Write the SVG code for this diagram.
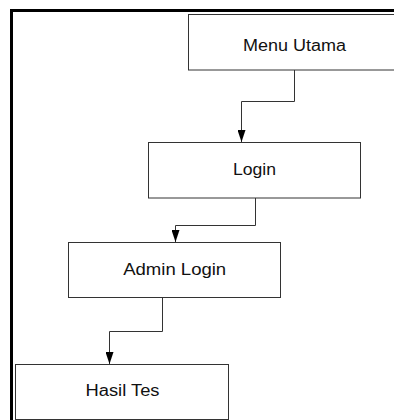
<svg xmlns="http://www.w3.org/2000/svg" width="394" height="420" viewBox="0 0 394 420">
<defs>
<style>
.box{fill:#fff;stroke:#333;stroke-width:1}
.lbl{font-family:"Liberation Sans",Arial,sans-serif;font-size:16px;fill:#111;text-anchor:middle}
.conn{fill:none;stroke:#333;stroke-width:1}
</style>
<marker id="arr" markerUnits="userSpaceOnUse" markerWidth="12" markerHeight="8" refX="12" refY="4" orient="auto" viewBox="0 0 12 8">
<path d="M0,0 L12,4 L0,8 Z" fill="#000"/>
</marker>
</defs>
<rect x="0" y="0" width="394" height="420" fill="#fff"/>
<rect x="11.5" y="10.5" width="400" height="420" fill="none" stroke="#000" stroke-width="3"/>
<g id="node-menu-utama">
<rect class="box" x="188.5" y="14.5" width="212" height="55.5"/>
<text class="lbl" x="294.5" y="50.5" textLength="103" lengthAdjust="spacingAndGlyphs">Menu Utama</text>
</g>
<g id="node-login">
<rect class="box" x="148.5" y="142.5" width="212" height="55.5"/>
<text class="lbl" x="254.5" y="174.5" textLength="43" lengthAdjust="spacingAndGlyphs">Login</text>
</g>
<g id="node-admin-login">
<rect class="box" x="68.5" y="242.5" width="212" height="55"/>
<text class="lbl" x="174.7" y="274.5" textLength="103" lengthAdjust="spacingAndGlyphs">Admin Login</text>
</g>
<g id="node-hasil-tes">
<rect class="box" x="15.5" y="364.5" width="213" height="55"/>
<text class="lbl" x="122.5" y="395.7" textLength="74" lengthAdjust="spacingAndGlyphs">Hasil Tes</text>
</g>
<g id="connectors">
<path class="conn" d="M294.5,70 V101.5 H241.5 V142" marker-end="url(#arr)"/>
<path class="conn" d="M255.5,198 V225.5 H175.5 V242" marker-end="url(#arr)"/>
<path class="conn" d="M162.5,297.5 V331.5 H109.5 V364" marker-end="url(#arr)"/>
</g>
</svg>
